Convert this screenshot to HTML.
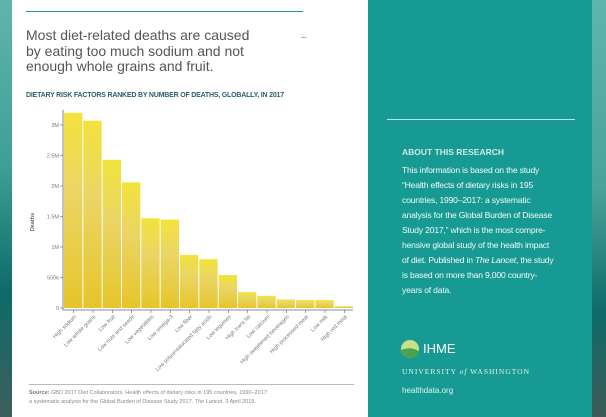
<!DOCTYPE html>
<html><head><meta charset="utf-8"><style>
body{margin:0;width:606px;height:417px;overflow:hidden;font-family:"Liberation Sans",sans-serif;position:relative;background:#179a94}
#lstrip{position:absolute;left:0;top:0;width:12px;height:417px;background:linear-gradient(#5fb5ad,#3f9e96 40%,#0e6b6a 70%,#3d5e5c)}
#card{position:absolute;left:12px;top:0;width:356px;height:417px;background:#fff}
#panel{position:absolute;left:368px;top:0;width:224px;height:417px;background:#179a94}
#rstrip{position:absolute;left:592px;top:0;width:14px;height:417px;background:linear-gradient(#5fb5ad,#48a49a 45%,#0e6b6a 75%,#3f5a58)}
.t{position:absolute;white-space:nowrap}
</style></head><body>
<div id="lstrip"></div>
<div id="card"></div>
<div id="panel"></div>
<div id="rstrip"></div>
<div class="t" style="left:26px;top:11px;width:277px;height:1px;background:#179a94"></div>
<div class="t" style="left:26px;top:28px;font-size:14px;line-height:15.5px;color:#555">Most diet-related deaths are caused<br>by eating too much sodium and not<br>enough whole grains and fruit.</div>
<div class="t" style="left:301px;top:32px;font-size:10px;color:#888">–</div>
<div class="t" style="left:26px;top:92px;font-size:7px;font-weight:bold;color:#2c5f6a;letter-spacing:-0.2px">DIETARY RISK FACTORS RANKED BY NUMBER OF DEATHS, GLOBALLY, IN 2017</div>
<svg id="chart" style="position:absolute;left:0;top:0" width="370" height="417">
<defs><linearGradient id="g" x1="0" y1="0" x2="0" y2="1"><stop offset="0" stop-color="#f2e33c"/><stop offset="0.4" stop-color="#ebd565"/><stop offset="1" stop-color="#e6c52a"/></linearGradient></defs>
</svg>
<div class="t" style="left:29px;top:384px;width:325px;height:1px;background:#bbb"></div>
<div class="t" style="left:29px;top:389px;font-size:5.5px;line-height:9px;color:#888"><b style="color:#777">Source:</b> GBD 2017 Diet Collaborators. Health effects of dietary risks in 195 countries, 1990–2017:<br>a systematic analysis for the Global Burden of Disease Study 2017. <i>The Lancet</i>. 3 April 2019.</div>
<div class="t" style="left:387px;top:119px;width:188px;height:1px;background:#bfe3df"></div>
<div class="t" style="left:402px;top:147px;font-size:8.5px;font-weight:bold;color:#cfe9e6">ABOUT THIS RESEARCH</div>
<div class="t" style="left:402px;top:163px;font-size:8.6px;line-height:15px;color:#f2faf9;letter-spacing:-0.2px">This information is based on the study<br>“Health effects of dietary risks in 195<br>countries, 1990–2017: a systematic<br>analysis for the Global Burden of Disease<br>Study 2017,” which is the most compre-<br>hensive global study of the health impact<br>of diet. Published in <i>The Lancet</i>, the study<br>is based on more than 9,000 country-<br>years of data.</div>
<svg class="t" style="left:400px;top:339px" width="20" height="20"><circle cx="10" cy="10" r="9" fill="#c9e08a"/><path d="M1 11 Q10 7 19 12 Q17 19 10 19 Q3 19 1 11Z" fill="#4fa14a"/></svg>
<div class="t" style="left:423px;top:341px;font-size:13px;color:#fff">IHME</div>
<div class="t" style="left:402px;top:367px;font-size:7.5px;letter-spacing:1px;color:#e0f2f0;font-family:'Liberation Serif',serif">UNIVERSITY <i>of</i> WASHINGTON</div>
<div class="t" style="left:402px;top:386px;font-size:8px;color:#e0f2f0">healthdata.org</div>
<script>
const categories=["High sodium","Low whole grains","Low fruit","Low nuts and seeds","Low vegetables","Low omega-3","Low fiber","Low polyunsaturated fatty acids","Low legumes","High trans fat","Low calcium","High sweetened beverages","High processed meat","Low milk","High red meat"];
const deaths=[3200000,3070000,2430000,2060000,1470000,1450000,870000,800000,540000,260000,200000,140000,130000,130000,30000];
const yTicks=[0,500000,1000000,1500000,2000000,2500000,3000000];
const yTickLabels=["0","500k","1M","1.5M","2M","2.5M","3M"];
const svg=document.getElementById('chart');const NS='http://www.w3.org/2000/svg';
const x0=63,x1=353,y0=308,pxPerM=61;
const y=v=>y0-v/1e6*pxPerM;
const bw=(x1-x0)/categories.length;
const xb=i=>x0+1+i*bw;
function mk(t,a){const e=document.createElementNS(NS,t);for(const k in a)e.setAttribute(k,a[k]);svg.appendChild(e);return e;}
let ax=mk('line',{x1:x0,y1:y(3.2e6)-3,x2:x0,y2:y0+2,stroke:'#666','stroke-width':0.8});


let bx=mk('line',{x1:x0,y1:y0+2,x2:x1,y2:y0+2,stroke:'#666','stroke-width':0.8});


yTicks.forEach((v,i)=>{
 const tk=mk('line',{x1:x0-3,y1:y(v),x2:x0,y2:y(v),stroke:'#666','stroke-width':0.6});
 
 
 const tx=mk('text',{x:x0-4,y:y(v)+2,'text-anchor':'end','font-size':5.5,fill:'#777'});
 tx.textContent=yTickLabels[i];
 
 
});
const yt=mk('text',{x:34,y:222,'font-size':5.5,'font-weight':'bold',fill:'#666','text-anchor':'middle',transform:'rotate(-90 34 222)'});
yt.textContent='Deaths';


categories.forEach((c,i)=>{
 const r=mk('rect',{x:xb(i),y:y(deaths[i]),width:bw-1,height:y0-y(deaths[i]),fill:'url(#g)'});
 
 
 const cx=xb(i)+bw/2;
 const tk=mk('line',{x1:cx,y1:y0+2,x2:cx,y2:y0+5,stroke:'#666','stroke-width':0.6});
 
 
 const lx=cx+3,ly=y0+9;
 const t=mk('text',{x:lx,y:ly,'text-anchor':'end','font-size':5.5,fill:'#777',transform:`rotate(-45 ${lx} ${ly})`});
 t.textContent=c;
 
 
});
</script>
</body></html>
